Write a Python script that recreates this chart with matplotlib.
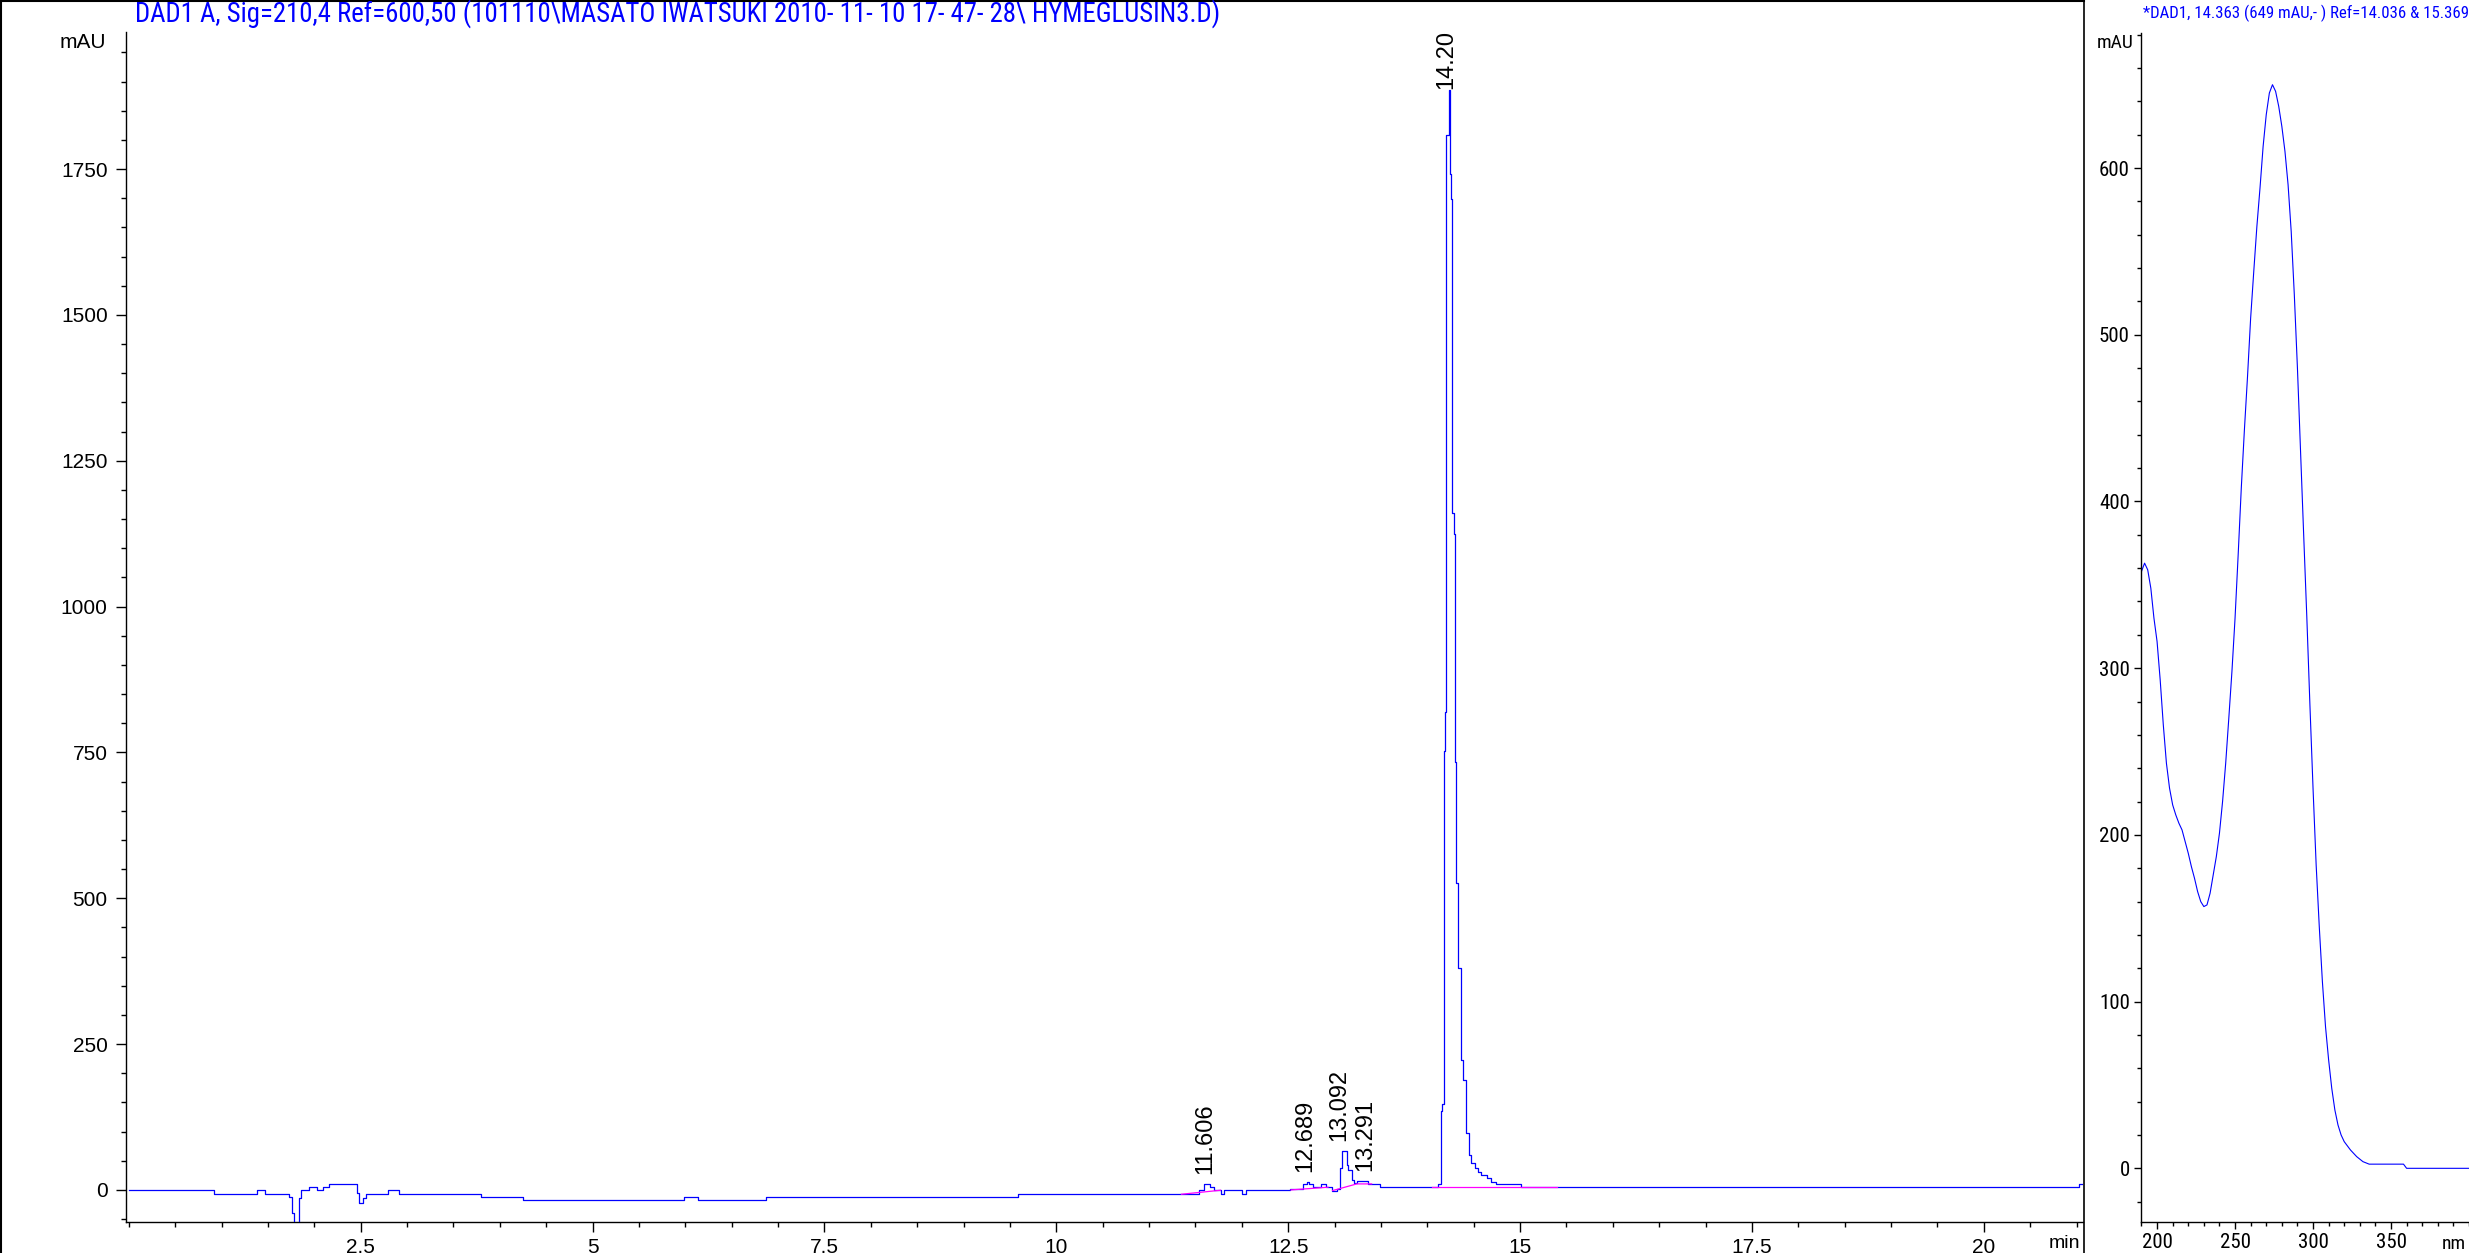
import matplotlib
matplotlib.use("Agg")
import matplotlib.pyplot as plt
from matplotlib.ticker import MultipleLocator, FixedLocator
from matplotlib import font_manager
from matplotlib.font_manager import FontProperties
from matplotlib.lines import Line2D
import numpy as np
import os

# ---------------- data ----------------
# chromatogram (DAD1 A, 210 nm), step values: value holds from time[i] to time[i+1]
chrom_time = [0.00, 0.924, 1.384, 1.467, 1.728, 1.762, 1.78, 1.83, 1.858, 1.948,
              2.03, 2.09, 2.154, 2.46, 2.48, 2.53, 2.56, 2.79, 2.91, 3.80,
              4.25, 5.99, 6.14, 6.87, 9.59, 11.54, 11.59, 11.66, 11.70, 11.78,
              11.81, 12.00, 12.05, 12.52, 12.66, 12.70, 12.72, 12.77, 12.85, 12.91,
              12.97, 13.03, 13.06, 13.08, 13.13, 13.15, 13.19, 13.21, 13.24, 13.36,
              13.49, 14.117, 14.146, 14.164, 14.178, 14.189, 14.199, 14.206, 14.234, 14.248,
              14.26, 14.266, 14.288, 14.30, 14.313, 14.33, 14.36, 14.385, 14.42, 14.45,
              14.47, 14.51, 14.55, 14.58, 14.64, 14.69, 14.74, 15.01, 21.03, 21.07]
chrom_mau = [0.0, -6.9, 0.0, -6.9, -12.0, -40.0, -80.0, -14.0, 0.0, 5.0,
             0.0, 5.0, 11.0, -5.0, -22.0, -14.0, -7.0, 0.0, -7.0, -12.0,
             -17.0, -12.0, -17.0, -12.0, -7.0, 0.0, 10.3, 4.6, -0.6, -7.4,
             -0.6, -7.4, -0.6, 1.1, 9.7, 14.3, 9.7, 4.6, 10.3, 4.6,
             -1.1, 1.1, 37.0, 67.5, 43.0, 34.0, 17.0, 12.6, 15.4, 10.3,
             4.6, 10.0, 135.0, 147.0, 752.0, 819.0, 1760.0, 1809.0, 1885.0, 1742.0,
             1699.0, 1161.0, 1125.0, 734.0, 526.0, 380.0, 222.0, 189.0, 97.0, 60.0,
             46.0, 37.0, 31.5, 25.7, 20.0, 14.3, 10.3, 4.6, 10.0, 10.0]

# integration baselines (magenta)
baseline_time = [[11.35, 11.77], [12.53, 12.93], [12.98, 13.24, 13.40], [14.05, 15.40]]
baseline_mau = [[-7.4, -0.6], [0.0, 4.6], [-1.1, 10.3, 10.3], [4.6, 4.6]]

peak_times = [11.606, 12.689, 13.092, 13.291, 14.20]
peak_labels = ["11.606", "12.689", "13.092", "13.291", "14.20"]

x_ticks = [2.5, 5, 7.5, 10, 12.5, 15, 17.5, 20]
x_tick_labels = ["2.5", "5", "7.5", "10", "12.5", "15", "17.5", "20"]
y_ticks = [0, 250, 500, 750, 1000, 1250, 1500, 1750]
y_tick_labels = ["0", "250", "500", "750", "1000", "1250", "1500", "1750"]

# UV spectrum of the 14.363 min peak
spec_nm = [190, 192, 194, 196, 198, 200, 202, 204, 206, 208,
           210, 212, 214, 216, 218, 220, 222, 224, 226, 228,
           230, 232, 234, 236, 238, 240, 242, 244, 246, 248,
           250, 252, 254, 256, 258, 260, 262, 264, 266, 268,
           270, 272, 274, 276, 278, 280, 282, 284, 286, 288,
           290, 292, 294, 296, 298, 300, 302, 304, 306, 308,
           310, 312, 314, 316, 318, 320, 324, 328, 332, 336,
           340, 350, 358, 360, 400]
spec_mau = [358, 363, 359, 348, 330, 316, 293, 266, 243, 228,
            218, 212, 207, 203, 196, 189, 181, 174, 166, 160,
            157, 158, 165, 176, 187, 201, 220, 243, 270, 298,
            330, 368, 408, 443, 475, 510, 538, 565, 588, 613,
            632, 645, 650, 646, 637, 625, 610, 590, 562, 524,
            480, 430, 380, 331, 278, 228, 182, 145, 112, 85,
            65, 48, 35, 26, 20, 16, 11, 7, 4, 2.5,
            2.5, 2.5, 2.5, 0, 0]
spec_x_ticks = [200, 250, 300, 350]
spec_x_tick_labels = ["200", "250", "300", "350"]
spec_y_ticks = [0, 100, 200, 300, 400, 500, 600]
spec_y_tick_labels = ["0", "100", "200", "300", "400", "500", "600"]

left_title = r"DAD1 A, Sig=210,4 Ref=600,50 (101110\MASATO IWATSUKI 2010- 11- 10 17- 47- 28\ HYMEGLUSIN3.D)"
right_title = "*DAD1, 14.363 (649 mAU,- ) Ref=14.036 & 15.369"

# ---------------- fonts ----------------
ttf = font_manager.fontManager.ttflist
names = {f.name for f in ttf}
REG = "Liberation Sans" if "Liberation Sans" in names else "DejaVu Sans"
plt.rcParams["font.family"] = [REG, "DejaVu Sans"]


def find_condensed():
    prefs = ["LiberationSansNarrow-Regular", "ArialNarrow", "RobotoCondensed-Regular",
             "OpenSans_Condensed-Regular", "OpenSansCondensed", "DejaVuSansCondensed.",
             "NotoSans-Condensed", "NotoSansCondensed"]
    for p in prefs:
        for f in ttf:
            base = os.path.basename(f.fname)
            if base.startswith(p) or p in base:
                if "Bold" in base or "Italic" in base or "Oblique" in base:
                    continue
                return FontProperties(fname=f.fname)
    for f in ttf:
        base = os.path.basename(f.fname)
        if ("Condensed" in base or "Narrow" in base) and not any(
                k in base for k in ("Bold", "Italic", "Oblique", "Light", "Thin", "Black", "Medium", "Semi", "Extra")):
            return FontProperties(fname=f.fname)
    return FontProperties(family=REG)


NARROW_FP = find_condensed()

W, H = 2469, 1253
fig = plt.figure(figsize=(W / 100, H / 100), dpi=100)
fig.patch.set_facecolor("white")


def fx(px):
    return px / W


def fy(py):
    return 1 - py / H


BLUE = "#0000FF"
MAG = "#FF00FF"

# ---------------- chromatogram ----------------
ax1 = fig.add_axes([fx(126), fy(1222), fx(2083 - 126), (1222 - 32) / H])
ax1.plot(chrom_time, chrom_mau, drawstyle="steps-post", color=BLUE, lw=0.9, zorder=3)
for bt, bv in zip(baseline_time, baseline_mau):
    ax1.plot(bt, bv, color=MAG, lw=0.9, zorder=4)
ax1.set_xlim(-0.03, 21.07)
ax1.set_ylim(-55, 1985)
for s in ["top", "right"]:
    ax1.spines[s].set_visible(False)
for s in ["left", "bottom"]:
    ax1.spines[s].set_linewidth(1.0)
ax1.xaxis.set_major_locator(FixedLocator(x_ticks))
ax1.set_xticklabels(x_tick_labels)
ax1.xaxis.set_minor_locator(MultipleLocator(0.5))
ax1.yaxis.set_major_locator(FixedLocator(y_ticks))
ax1.set_yticklabels(y_tick_labels)
ax1.yaxis.set_minor_locator(MultipleLocator(50))
ax1.tick_params(which="major", direction="out", length=7.2, width=1.0, labelsize=15, pad=4.5)
ax1.tick_params(which="minor", direction="out", length=3.4, width=1.0)
ax1.tick_params(axis="y", which="major", pad=6.0)

# small horizontal nudges (points) so neighbouring labels do not collide
label_dx = {"13.092": -3.0, "13.291": 3.0}

t_arr = np.array(chrom_time)
v_arr = np.array(chrom_mau)
for lbl, rt in zip(peak_labels, peak_times):
    m = (t_arr > rt - 0.06) & (t_arr < rt + 0.06)
    top = v_arr[m].max()
    off = 1.0 if top > 1000 else 7.0
    ann = ax1.annotate(lbl, xy=(rt, top), xytext=(label_dx.get(lbl, 0.0), off),
                       textcoords="offset points",
                       rotation=90, ha="center", va="bottom", fontsize=17,
                       color="black", annotation_clip=False)
    ann.set_clip_on(True)
    ann.set_clip_box(ax1.bbox)

# ---------------- spectrum ----------------
ax2 = fig.add_axes([fx(2141), fy(1222), fx(W - 2141), (1222 - 33) / H])
ax2.plot(spec_nm, spec_mau, color=BLUE, lw=0.8)
ax2.set_xlim(189.7, 400)
ax2.set_ylim(-32.2, 681)
for s in ["top", "right"]:
    ax2.spines[s].set_visible(False)
for s in ["left", "bottom"]:
    ax2.spines[s].set_linewidth(1.0)
ax2.xaxis.set_major_locator(FixedLocator(spec_x_ticks))
ax2.set_xticklabels(spec_x_tick_labels)
ax2.xaxis.set_minor_locator(MultipleLocator(10))
ax2.yaxis.set_major_locator(FixedLocator(spec_y_ticks))
ax2.set_yticklabels(spec_y_tick_labels)
ax2.yaxis.set_minor_locator(MultipleLocator(20))
ax2.tick_params(which="major", direction="out", length=5.0, width=1.0, labelsize=15, pad=3)
ax2.tick_params(which="minor", direction="out", length=3.0, width=1.0)
for lab in ax2.get_xticklabels() + ax2.get_yticklabels():
    lab.set_fontproperties(NARROW_FP)
    lab.set_fontsize(15)

# ---------------- texts ----------------
renderer = fig.canvas.get_renderer()


def fit(t, target_px):
    w = t.get_window_extent(renderer=renderer).width
    t.set_fontsize(t.get_fontsize() * target_px / w)


t1 = fig.text(fx(135), fy(14), left_title, color=BLUE, fontproperties=NARROW_FP,
              ha="left", va="center")
t1.set_fontsize(15)
fit(t1, 1090)
t2 = fig.text(fx(2143), fy(13), right_title, color=BLUE, fontproperties=NARROW_FP,
              ha="left", va="center")
t2.set_fontsize(13)
fit(t2, 323)

fig.text(fx(106), fy(43), "mAU", fontsize=15, ha="right", va="center")
t_m2 = fig.text(fx(2133), fy(43), "mAU", ha="right", va="center", fontproperties=NARROW_FP)
t_m2.set_fontsize(14)
fig.text(fx(2064), fy(1244), "min", fontsize=14, ha="center", va="center")
t_nm = fig.text(fx(2466), fy(1244), "nm", ha="right", va="center", fontproperties=NARROW_FP)
t_nm.set_fontsize(14)

# frame lines of the report page
fig.add_artist(Line2D([0, fx(2084)], [fy(0.8), fy(0.8)], color="black", lw=1.5, transform=fig.transFigure))
fig.add_artist(Line2D([fx(0.8), fx(0.8)], [0, 1], color="black", lw=1.5, transform=fig.transFigure))
fig.add_artist(Line2D([fx(2084), fx(2084)], [0, 1], color="black", lw=1.2, transform=fig.transFigure))

fig.savefig("out.png", dpi=100, facecolor="white")
